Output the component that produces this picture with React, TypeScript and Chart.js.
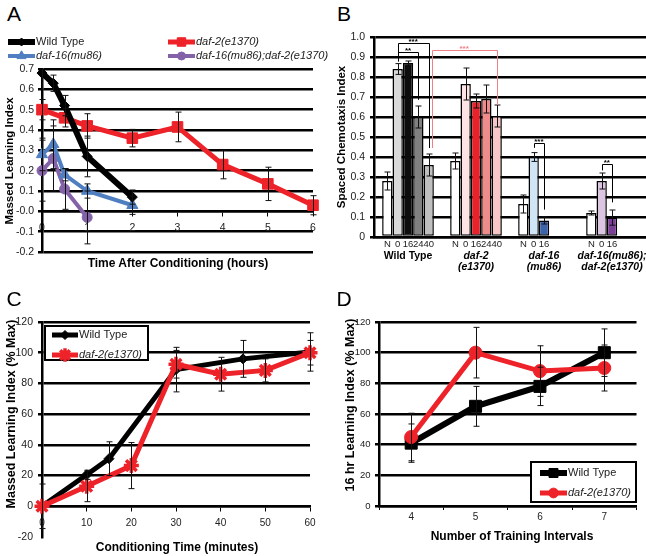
import React, { useEffect, useRef } from 'react';
import { Chart, registerables } from 'chart.js';
import { drawPoint } from 'chart.js/helpers';

Chart.register(...registerables);

const FONT = "'Liberation Sans', Arial, Helvetica, sans-serif";
Chart.defaults.font.family = FONT;
Chart.defaults.color = '#222';

// ---------- Panel A ----------
const aWildTypeHours = [0, 0.25, 0.5, 1, 2];
const aWildTypeIndex = [0.68, 0.63, 0.52, 0.27, 0.07];
const aWildTypeErr = [0.08, 0.04, 0.05, 0.1, 0.035];
const aDaf2Hours = [0, 0.5, 1, 2, 3, 4, 5, 6];
const aDaf2Index = [0.5, 0.46, 0.42, 0.36, 0.415, 0.23, 0.135, 0.03];
const aDaf2Err = [0.05, 0.045, 0.06, 0.043, 0.073, 0.07, 0.082, 0.047];
const aDaf16Hours = [0, 0.25, 0.5, 1, 2];
const aDaf16Index = [0.28, 0.33, 0.18, 0.1, 0.03];
const aDaf16Err = [0.08, 0.12, 0.03, 0.035, 0.045];
const aDoubleHours = [0, 0.25, 0.5, 1];
const aDoubleIndex = [0.2, 0.26, 0.11, -0.03];
const aDoubleErr = [0.15, 0.16, 0.1, 0.13];

// ---------- Panel B ----------
const bGroups = [['Wild Type'], ['daf-2', '(e1370)'], ['daf-16', '(mu86)'], ['daf-16(mu86);', 'daf-2(e1370)']];
const bTimes = ['N', '0', '16', '24', '40'];
const bValues = [
  [0.28, 0.38, 0.165, 0.12],
  [0.84, 0.765, 0.4, 0.28],
  [0.87, 0.68, 0.083, 0.097],
  [0.6, 0.69, null, null],
  [0.36, 0.605, null, null],
];
const bErrors = [
  [0.045, 0.04, 0.045, 0.01],
  [0.027, 0.08, 0.022, 0.04],
  [0.01, 0.035, 0.018, 0.038],
  [0.055, 0.07, null, null],
  [0.055, 0.055, null, null],
];
const bColors = [
  ['#ffffff', '#ffffff', '#ffffff', '#ffffff'],
  ['#d9d9d9', '#fde3e3', '#d0e6f7', '#dcc5e2'],
  ['#0d0d0d', '#e8212b', '#3b64ad', '#7b3f98'],
  ['#808080', '#f08b8b', '#ffffff', '#ffffff'],
  ['#bfbfbf', '#f8c6c6', '#ffffff', '#ffffff'],
];
const bBrackets = [
  { from: [0, 1], to: [0, 4], top: 0.97, fromEnd: 0.878, toEnd: 0.445, label: '***', color: '#000', nudge: 0 },
  { from: [0, 1], to: [0, 3], top: 0.923, fromEnd: 0.878, toEnd: 0.686, label: '**', color: '#000', nudge: 0 },
  { from: [0, 4], to: [1, 4], top: 0.933, fromEnd: 0.445, toEnd: 0.66, label: '***', color: '#f07f86', nudge: 3 },
  { from: [2, 1], to: [2, 2], top: 0.47, fromEnd: 0.446, toEnd: 0.137, label: '***', color: '#000', nudge: 0 },
  { from: [3, 1], to: [3, 2], top: 0.365, fromEnd: 0.333, toEnd: 0.173, label: '**', color: '#000', nudge: 0 },
];

// ---------- Panel C ----------
const cWildTypeMin = [0, 10, 15, 30, 45, 60];
const cWildType = [0, 20.5, 31, 89, 96, 100.5];
const cWildTypeErr = [14.5, 3, 11, 14.5, 12, 12.5];
const cDaf2Min = [0, 10, 20, 30, 40, 50, 60];
const cDaf2 = [0, 13, 26.5, 92.5, 86, 88.5, 100];
const cDaf2Err = [null, 10, 15, 9, 11, 7.5, 8];

// ---------- Panel D ----------
const dIntervals = ['4', '5', '6', '7'];
const dWildType = [41, 65, 78, 100];
const dWildTypeErr = [12.5, 13, 12.5, 15.5];
const dDaf2 = [45, 100, 88, 90];
const dDaf2Err = [15.5, 16.5, 16.5, 15];

const RED = '#ee2229';
const BLUE = '#4f7fc0';
const PURPLE = '#8462a8';
const GRID_W = 2.5;

const errorBarPlugin = {
  id: 'errorBars',
  afterDatasetsDraw(chart: any) {
    const ctx = chart.ctx;
    const ys = chart.scales.y;
    const area = chart.chartArea;
    ctx.save();
    ctx.beginPath();
    ctx.rect(0, area.top, chart.width, area.bottom - area.top);
    ctx.clip();
    ctx.strokeStyle = '#111';
    ctx.lineWidth = 1;
    chart.data.datasets.forEach((ds: any, di: number) => {
      if (!ds.errors) return;
      const meta = chart.getDatasetMeta(di);
      meta.data.forEach((el: any, i: number) => {
        const raw = ds.data[i];
        const v = raw !== null && typeof raw === 'object' ? raw.y : raw;
        const e = ds.errors[i];
        if (v == null || e == null) return;
        const x = Math.round(el.x) + 0.5;
        const t = ys.getPixelForValue(v + e);
        const b = ys.getPixelForValue(v - e);
        ctx.beginPath();
        ctx.moveTo(x, t);
        ctx.lineTo(x, b);
        ctx.moveTo(x - 3, t);
        ctx.lineTo(x + 3, t);
        ctx.moveTo(x - 3, b);
        ctx.lineTo(x + 3, b);
        ctx.stroke();
      });
    });
    ctx.restore();
  },
};

const lineLegendPlugin = {
  id: 'lineLegend',
  afterDraw(chart: any, _a: any, opts: any) {
    if (!opts || !opts.items) return;
    const ctx = chart.ctx;
    ctx.save();
    if (opts.box) {
      const [x, y, w, h] = opts.box;
      ctx.fillStyle = '#fff';
      ctx.fillRect(x, y, w, h);
      ctx.strokeStyle = '#000';
      ctx.lineWidth = 2;
      ctx.strokeRect(x, y, w, h);
    }
    for (const it of opts.items) {
      const ds = chart.data.datasets[it.dataset];
      ctx.strokeStyle = ds.borderColor;
      ctx.lineWidth = ds.borderWidth;
      ctx.beginPath();
      ctx.moveTo(it.x0, it.y);
      ctx.lineTo(it.x1, it.y);
      ctx.stroke();
      ctx.fillStyle = ds.pointBackgroundColor;
      ctx.strokeStyle = ds.pointBorderColor;
      ctx.lineWidth = ds.pointBorderWidth;
      drawPoint(ctx, { pointStyle: ds.pointStyle, radius: ds.pointRadius * (opts.markerScale || 1), borderWidth: ds.pointBorderWidth, rotation: 0 } as any, (it.x0 + it.x1) / 2, it.y);
      ctx.fillStyle = '#222';
      ctx.font = `${it.italic ? 'italic ' : ''}${opts.size}px ${FONT}`;
      ctx.textAlign = 'left';
      ctx.textBaseline = 'middle';
      ctx.fillText(ds.label, it.x1 + 1, it.y);
    }
    ctx.restore();
  },
};

const barAnnotationPlugin = {
  id: 'barAnnotations',
  afterDraw(chart: any) {
    const ctx = chart.ctx;
    const ys = chart.scales.y;
    const area = chart.chartArea;
    ctx.save();
    // per-bar time labels
    ctx.fillStyle = '#222';
    ctx.font = `9.5px ${FONT}`;
    ctx.textAlign = 'center';
    ctx.textBaseline = 'middle';
    chart.data.datasets.forEach((ds: any, si: number) => {
      const meta = chart.getDatasetMeta(si);
      meta.data.forEach((el: any, gi: number) => {
        if (ds.data[gi] == null) return;
        ctx.fillText(bTimes[si], el.x, area.bottom + 7);
      });
    });
    // significance brackets
    for (const br of bBrackets) {
      const x1 = chart.getDatasetMeta(br.from[1]).data[br.from[0]].x + br.nudge;
      const x2 = chart.getDatasetMeta(br.to[1]).data[br.to[0]].x;
      const yt = Math.round(ys.getPixelForValue(br.top)) + 0.5;
      ctx.strokeStyle = br.color;
      ctx.lineWidth = 1;
      ctx.beginPath();
      ctx.moveTo(Math.round(x1) + 0.5, ys.getPixelForValue(br.fromEnd));
      ctx.lineTo(Math.round(x1) + 0.5, yt);
      ctx.lineTo(Math.round(x2) + 0.5, yt);
      ctx.lineTo(Math.round(x2) + 0.5, ys.getPixelForValue(br.toEnd));
      ctx.stroke();
      ctx.fillStyle = br.color;
      ctx.font = `bold 8px ${FONT}`;
      ctx.textBaseline = 'bottom';
      ctx.fillText(br.label, (x1 + x2) / 2, yt + 2);
    }
    ctx.restore();
  },
};

const axisBorder = { color: '#000', width: 2.5 };

function configA(): any {
  return {
    type: 'line',
    plugins: [errorBarPlugin, lineLegendPlugin],
    data: {
      datasets: [
        { label: 'Wild Type', data: aWildTypeHours.map((x, i) => ({ x, y: aWildTypeIndex[i] })), errors: aWildTypeErr, borderColor: '#000', borderWidth: 6, pointStyle: 'rectRot', pointRadius: 5, pointBackgroundColor: '#000', pointBorderColor: '#000', pointBorderWidth: 1, order: 0, clip: false },
        { label: 'daf-2(e1370)', data: aDaf2Hours.map((x, i) => ({ x, y: aDaf2Index[i] })), errors: aDaf2Err, borderColor: RED, borderWidth: 5, pointStyle: 'rect', pointRadius: 7.5, pointBackgroundColor: RED, pointBorderColor: RED, pointBorderWidth: 1, order: 1, clip: false },
        { label: 'daf-16(mu86)', data: aDaf16Hours.map((x, i) => ({ x, y: aDaf16Index[i] })), errors: aDaf16Err, borderColor: BLUE, borderWidth: 4, pointStyle: 'triangle', pointRadius: 6.5, pointBackgroundColor: BLUE, pointBorderColor: BLUE, pointBorderWidth: 1, order: 2, clip: false },
        { label: 'daf-16(mu86);daf-2(e1370)', data: aDoubleHours.map((x, i) => ({ x, y: aDoubleIndex[i] })), errors: aDoubleErr, borderColor: PURPLE, borderWidth: 4, pointStyle: 'circle', pointRadius: 5, pointBackgroundColor: PURPLE, pointBorderColor: PURPLE, pointBorderWidth: 1, order: 3, clip: false },
      ],
    },
    options: {
      responsive: false,
      animation: false,
      layout: { padding: { left: 0, top: 39, right: 17, bottom: 18 } },
      plugins: {
        legend: { display: false },
        tooltip: { enabled: false },
        lineLegend: {
          size: 11,
          markerScale: 0.8,
          items: [
            { dataset: 0, x0: 8, x1: 35, y: 12, italic: false },
            { dataset: 1, x0: 168, x1: 195, y: 12, italic: true },
            { dataset: 2, x0: 8, x1: 35, y: 26, italic: true },
            { dataset: 3, x0: 168, x1: 195, y: 26, italic: true },
          ],
        },
      },
      scales: {
        x: {
          type: 'linear', min: 0, max: 6, position: { y: 0 },
          ticks: { stepSize: 1, padding: 6, font: { size: 10.5 }, color: '#222' },
          grid: { drawOnChartArea: false, drawTicks: true, tickLength: 4, color: '#000', lineWidth: 1 },
          border: axisBorder,
        },
        y: {
          min: -0.2, max: 0.7,
          ticks: { stepSize: 0.1, padding: 4, font: { size: 10.5 }, color: '#222' },
          grid: { color: '#000', lineWidth: GRID_W, tickLength: 4 },
          border: axisBorder,
          afterFit: (s: any) => { s.width = 42; },
        },
      },
    },
  };
}

function configB(): any {
  return {
    type: 'bar',
    plugins: [errorBarPlugin, barAnnotationPlugin],
    data: {
      labels: bGroups,
      datasets: bTimes.map((t, si) => ({
        label: t, data: bValues[si], errors: bErrors[si], backgroundColor: bColors[si],
        borderColor: '#000', borderWidth: 1.5, borderSkipped: false,
        categoryPercentage: 0.76, barPercentage: 1,
      })),
    },
    options: {
      responsive: false,
      animation: false,
      layout: { padding: { left: 0, top: 12, right: 0, bottom: 0 } },
      plugins: { legend: { display: false }, tooltip: { enabled: false } },
      scales: {
        x: {
          grid: { display: true, drawOnChartArea: false, drawTicks: false },
          border: axisBorder,
          ticks: {
            padding: 13.5, autoSkip: false, maxRotation: 0, minRotation: 0, color: '#000',
            font: (c: any) => ({ size: 10.5, weight: 'bold', style: c.index === 0 ? 'normal' : 'italic', lineHeight: 1.05 }),
          },
          afterFit: (s: any) => { s.height = 48; s.paddingLeft = 0; s.paddingRight = 0; },
        },
        y: {
          min: 0, max: 1,
          ticks: { stepSize: 0.1, padding: 5, font: { size: 10.5 }, color: '#222' },
          grid: { color: '#000', lineWidth: GRID_W, tickLength: 4 },
          border: axisBorder,
          afterFit: (s: any) => { s.width = 44; },
        },
      },
    },
  };
}

function configC(): any {
  return {
    type: 'line',
    plugins: [errorBarPlugin, lineLegendPlugin],
    data: {
      datasets: [
        { label: 'Wild Type', data: cWildTypeMin.map((x, i) => ({ x, y: cWildType[i] })), errors: cWildTypeErr, borderColor: '#000', borderWidth: 5, pointStyle: 'rectRot', pointRadius: 5, pointBackgroundColor: '#000', pointBorderColor: '#000', pointBorderWidth: 1, order: 1, clip: false },
        { label: 'daf-2(e1370)', data: cDaf2Min.map((x, i) => ({ x, y: cDaf2[i] })), errors: cDaf2Err, borderColor: RED, borderWidth: 5, pointStyle: 'star', pointRadius: 7.5, pointBackgroundColor: RED, pointBorderColor: RED, pointBorderWidth: 3.5, order: 0, clip: false },
      ],
    },
    options: {
      responsive: false,
      animation: false,
      layout: { padding: { left: 0, top: 22, right: 20, bottom: 19 } },
      plugins: {
        legend: { display: false },
        tooltip: { enabled: false },
        lineLegend: {
          size: 11,
          markerScale: 0.9,
          box: [45, 26, 103, 34],
          items: [
            { dataset: 0, x0: 52, x1: 78, y: 35, italic: false },
            { dataset: 1, x0: 52, x1: 78, y: 55, italic: true },
          ],
        },
      },
      scales: {
        x: {
          type: 'linear', min: 0, max: 60, position: { y: 0 },
          ticks: { stepSize: 10, padding: 7, font: { size: 10 }, color: '#222' },
          grid: { drawOnChartArea: false, drawTicks: true, tickLength: 4, color: '#000', lineWidth: 1 },
          border: axisBorder,
        },
        y: {
          min: -20, max: 120,
          ticks: { stepSize: 20, padding: 5, font: { size: 10.5 }, color: '#222' },
          grid: { color: (c: any) => (c.tick && c.tick.value === -20 ? 'rgba(0,0,0,0)' : '#000'), lineWidth: GRID_W, tickLength: 4 },
          border: axisBorder,
          afterFit: (s: any) => { s.width = 42; },
        },
      },
    },
  };
}

function configD(): any {
  return {
    type: 'line',
    plugins: [errorBarPlugin, lineLegendPlugin],
    data: {
      labels: dIntervals,
      datasets: [
        { label: 'Wild Type', data: dWildType, errors: dWildTypeErr, borderColor: '#000', borderWidth: 6, pointStyle: 'rect', pointRadius: 8.5, pointBackgroundColor: '#000', pointBorderColor: '#000', pointBorderWidth: 1, order: 1, clip: false },
        { label: 'daf-2(e1370)', data: dDaf2, errors: dDaf2Err, borderColor: RED, borderWidth: 5, pointStyle: 'circle', pointRadius: 6.5, pointBackgroundColor: RED, pointBorderColor: RED, pointBorderWidth: 1, order: 0, clip: false },
      ],
    },
    options: {
      responsive: false,
      animation: false,
      layout: { padding: { left: 0, top: 22, right: 3, bottom: 0 } },
      plugins: {
        legend: { display: false },
        tooltip: { enabled: false },
        lineLegend: {
          size: 11,
          markerScale: 0.75,
          box: [201, 162, 105, 40],
          items: [
            { dataset: 0, x0: 210, x1: 237, y: 173, italic: false },
            { dataset: 1, x0: 210, x1: 237, y: 193, italic: true },
          ],
        },
      },
      scales: {
        x: {
          type: 'category', offset: true,
          ticks: { padding: 1, font: { size: 10 }, color: '#222' },
          grid: { offset: true, drawOnChartArea: false, drawTicks: true, tickLength: 4, color: '#000', lineWidth: 1 },
          border: axisBorder,
          afterFit: (s: any) => { s.height = 50; },
        },
        y: {
          min: 0, max: 120,
          ticks: { stepSize: 20, padding: 4.5, font: { size: 9.5 }, color: '#222' },
          grid: { color: '#000', lineWidth: GRID_W, tickLength: 4 },
          border: axisBorder,
          afterFit: (s: any) => { s.width = 49; },
        },
      },
    },
  };
}

function ChartCanvas({ left, top, width, height, config }: any) {
  const ref = useRef<HTMLCanvasElement>(null);
  useEffect(() => {
    const chart = new Chart(ref.current as HTMLCanvasElement, config());
    return () => chart.destroy();
  }, []);
  return <canvas ref={ref} width={width} height={height} style={{ position: 'absolute', left, top, width, height }} />;
}

function Txt({ x, y, size, bold, italic, rotate, children }: any) {
  return (
    <div
      style={{
        position: 'absolute', left: x, top: y,
        transform: `translate(-50%, -50%)${rotate ? ' rotate(-90deg)' : ''}`,
        fontSize: size, fontWeight: bold ? 700 : 400, fontStyle: italic ? 'italic' : 'normal',
        lineHeight: 1, whiteSpace: 'nowrap', color: '#000', fontFamily: FONT,
      }}
    >
      {children}
    </div>
  );
}

export default function App() {
  return (
    <div style={{ position: 'fixed', left: 0, top: 0, width: 646, height: 556, background: '#fff', overflow: 'hidden', fontFamily: FONT }}>
      <ChartCanvas left={0} top={30} width={330} height={240} config={configA} />
      <ChartCanvas left={330} top={25} width={316} height={260} config={configB} />
      <ChartCanvas left={0} top={300} width={330} height={256} config={configC} />
      <ChartCanvas left={330} top={300} width={316} height={256} config={configD} />

      <Txt x={14} y={13} size={21}>A</Txt>
      <Txt x={344} y={13} size={21}>B</Txt>
      <Txt x={14} y={298} size={21}>C</Txt>
      <Txt x={344} y={298} size={21}>D</Txt>

      <Txt x={178} y={263} size={12} bold>Time After Conditioning (hours)</Txt>
      <Txt x={10} y={161} size={11.5} bold rotate>Massed Learning Index</Txt>
      <Txt x={342} y={137} size={11.5} bold rotate>Spaced Chemotaxis Index</Txt>
      <Txt x={177} y={547} size={12} bold>Conditioning Time (minutes)</Txt>
      <Txt x={11} y={414} size={12.5} bold rotate>Massed Learning Index (% Max)</Txt>
      <Txt x={512} y={536} size={12} bold>Number of Training Intervals</Txt>
      <Txt x={350} y={405} size={12.5} bold rotate>16 hr Learning Index (% Max)</Txt>
    </div>
  );
}
